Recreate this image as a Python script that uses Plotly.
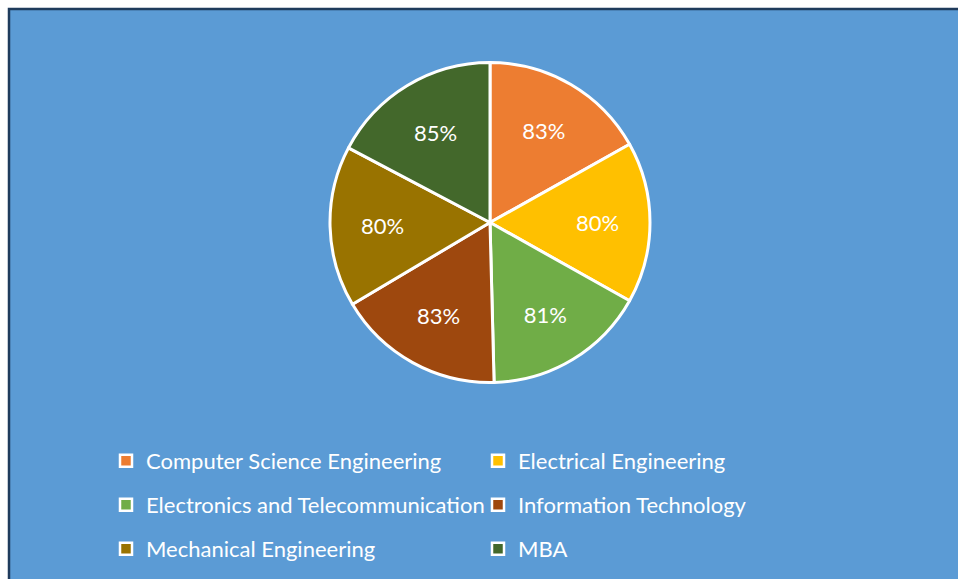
import plotly.graph_objects as go

categories = ["Computer Science Engineering", "Electrical Engineering",
              "Electronics and Telecommunication", "Information Technology",
              "Mechanical Engineering", "MBA"]
values = [83, 80, 81, 83, 80, 85]
labels_text = ["83%", "80%", "81%", "83%", "80%", "85%"]
colors = ["#ED7D31", "#FFC000", "#70AD47", "#9E480E", "#997300", "#43682B"]

W, H = 958, 579
FONT = "Lato, Calibri, Carlito, sans-serif"

fig = go.Figure()
fig.add_trace(go.Pie(
    labels=categories, values=values, text=labels_text,
    textinfo="text", textposition="inside", insidetextorientation="horizontal",
    textfont=dict(color="white", size=22, family=FONT),
    marker=dict(colors=colors, line=dict(color="white", width=3)),
    sort=False, direction="clockwise", rotation=0,
    domain=dict(x=[330 / W, 650 / W], y=[1 - 383 / H, 1 - 62 / H]),
    showlegend=False, hoverinfo="label+value",
))

# legend entries (three rows, two columns)
legend_names = ["legend", "legend", "legend2", "legend2", "legend3", "legend3"]
for cat, col, lg in zip(categories, colors, legend_names):
    fig.add_trace(go.Scatter(
        x=[None], y=[None], mode="markers", name=cat, legend=lg,
        marker=dict(symbol="square", size=12, color=col,
                    line=dict(color="white", width=2.5)),
        xaxis="x", yaxis="y",
    ))

leg_common = dict(orientation="h", xanchor="left", yanchor="middle",
                  x=106 / W, entrywidth=327, entrywidthmode="pixels",
                  itemwidth=30, bgcolor="rgba(0,0,0,0)",
                  font=dict(color="white", size=22, family=FONT),
                  itemclick=False, itemdoubleclick=False)
row_y = [461, 505, 549]

fig.update_layout(
    width=W, height=H,
    margin=dict(l=0, r=0, t=0, b=0, autoexpand=False),
    paper_bgcolor="white", plot_bgcolor="rgba(0,0,0,0)",
    xaxis=dict(visible=False, range=[0, 1]),
    yaxis=dict(visible=False, range=[0, 1]),
    legend=dict(**leg_common, y=1 - row_y[0] / H),
    legend2=dict(**leg_common, y=1 - row_y[1] / H),
    legend3=dict(**leg_common, y=1 - row_y[2] / H),
    shapes=[dict(type="rect", xref="paper", yref="paper",
                 x0=9 / W, x1=1.05, y0=-0.05, y1=1 - 9 / H,
                 fillcolor="#5B9BD5", line=dict(color="#1F3B5C", width=2.5),
                 layer="below")],
)

fig.write_html("out.html",
               config={"displayModeBar": False},
               post_script="document.body.style.margin='0';"
                           "document.body.style.overflow='hidden';")
